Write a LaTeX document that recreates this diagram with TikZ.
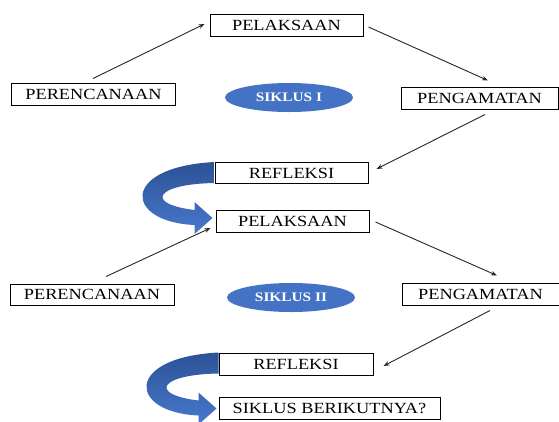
\documentclass[tikz,border=0pt]{standalone}
\usepackage{fontspec}
\setmainfont{Liberation Serif}[FakeStretch=1.18]
\usetikzlibrary{arrows.meta,calc,shapes.geometric}
\definecolor{ellblue}{RGB}{68,114,196}
\definecolor{darkblue}{RGB}{44,82,150}
\definecolor{lightblue}{RGB}{72,120,205}
\tikzset{
  stagebox/.style={draw=black,line width=1pt,fill=white,inner sep=0pt,
    minimum height=22pt,font=\fontsize{15.5}{17}\selectfont},
  cyclelabel/.style={ellipse,fill=ellblue,inner sep=0pt,minimum width=128pt,
    minimum height=29pt,text=white,font=\fontsize{13}{15}\selectfont\bfseries},
  arr/.style={draw=black!85,line width=0.9pt,-{Stealth[length=6pt,width=4.5pt]}},
  bendarrow/.style={top color=darkblue,bottom color=lightblue,draw=none}
}
\begin{document}
\begin{tikzpicture}[x=1pt,y=-1pt]
\useasboundingbox (0,0) rectangle (559,421);
% cycle I
\node[stagebox,minimum width=153pt] (pel1) at (286.5,25) {PELAKSAAN};
\node[stagebox,minimum width=164pt] (per1) at (93.5,94) {PERENCANAAN};
\node[cyclelabel] (sik1) at (289,97.5) {SIKLUS I};
\node[stagebox,minimum width=157pt] (pen1) at (479.5,98) {PENGAMATAN};
\node[stagebox,minimum width=153pt,minimum height=21pt] (ref1) at (291.5,173) {REFLEKSI};
% cycle II
\node[stagebox,minimum width=153pt] (pel2) at (292.5,221) {PELAKSAAN};
\node[stagebox,minimum width=164pt,minimum height=21pt] (per2) at (92,294.5) {PERENCANAAN};
\node[cyclelabel] (sik2) at (291,297.5) {SIKLUS II};
\node[stagebox,minimum width=157pt] (pen2) at (480.5,294) {PENGAMATAN};
\node[stagebox,minimum width=154pt] (ref2) at (296,364) {REFLEKSI};
\node[stagebox,minimum width=221pt] (nxt) at (329.5,408.5) {SIKLUS BERIKUTNYA?};
% connectors
\draw[arr] ($(per1.north)+(-0.5,-4)$) -- ($(pel1.west)+(-5,-1)$);
\draw[arr] ($(pel1.east)+(5,2)$) -- ($(pen1.north)+(8.5,-6)$);
\draw[arr] ($(pen1.south)+(5.5,5)$) -- ($(ref1.east)+(8,-4)$);
\draw[arr] ($(per2.north)+(14,-7)$) -- ($(pel2.west)+(-5,7)$);
\draw[arr] ($(pel2.east)+(6,1)$) -- ($(pen2.north)+(16.5,-7)$);
\draw[arr] ($(pen2.south)+(9.5,5)$) -- ($(ref2.east)+(10,2)$);
% curved block arrows
\coordinate (c1) at (ref1.north west);
\coordinate (c2) at (ref2.north west);
\foreach \c in {c1,c2}{
  \path[bendarrow] ($(\c)+(0,0)$) -- ($(\c)+(0,21)$)
    .. controls ($(\c)+(-60,22)$) and ($(\c)+(-70,42)$) .. ($(\c)+(-20,48)$)
    -- ($(\c)+(-20,40)$) -- ($(\c)+(-2,56)$) -- ($(\c)+(-20,72)$) -- ($(\c)+(-20,63)$)
    .. controls ($(\c)+(-90,60)$) and ($(\c)+(-95,5)$) .. ($(\c)+(0,0)$) -- cycle;
}
\end{tikzpicture}
\end{document}
